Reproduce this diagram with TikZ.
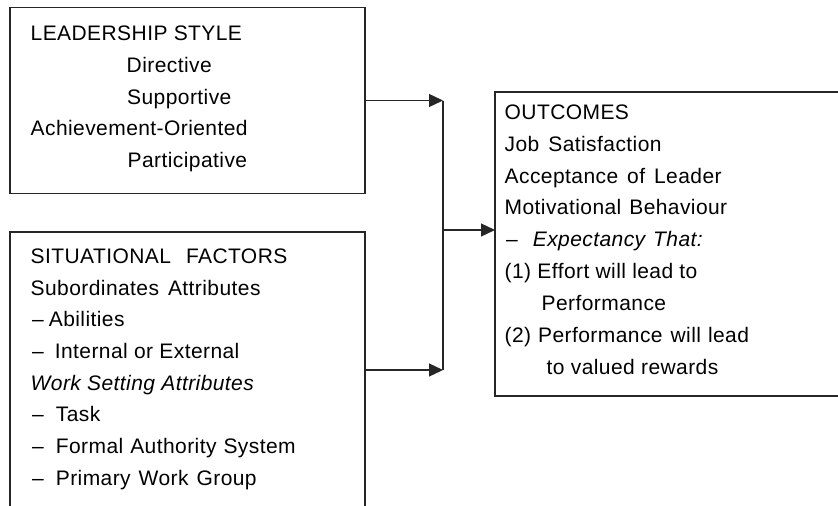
\documentclass[tikz,border=0pt]{standalone}
\usepackage{fontspec}
\setmainfont[LetterSpace=2]{Liberation Sans}
\usetikzlibrary{arrows.meta}
\begin{document}
\begin{tikzpicture}[x=1pt,y=-1pt,
  frame/.style={draw=black!85,line width=1.3pt},
  link/.style={draw=black!85,line width=1.3pt},
  tip/.style={link,-{Triangle[length=14pt,width=13pt]}},
  label/.style={anchor=base west,inner sep=0pt,font=\fontsize{21}{25}\selectfont}]
\clip (0,0) rectangle (838,506);

% Leadership style box
\node[frame,minimum width=355pt,minimum height=186pt,inner sep=0pt] (lead) at (187.5,100.5) {};
\foreach \dx/\t [count=\i] in {0/{LEADERSHIP STYLE},96/{Directive},96.5/{Supportive},
    0/{Achievement-Oriented},97/{Participative}}
  \node[label] (lead-\i) at ({30.5+\dx},{40.7+31.65*(\i-1)}) {\t};

% Situational factors box (open at the bottom)
\coordinate (sit-nw) at (10,232);
\coordinate (sit-ne) at (365,232);
\coordinate (sit-out) at (365,370);
\draw[frame] (10,512) -- (sit-nw) -- (sit-ne) -- (365,512);
\foreach \dx/\t [count=\i] in {0/{SITUATIONAL\hspace{15pt}FACTORS},
    0/{Subordinates\hspace{9pt}Attributes},
    1.5/{--\hspace{5pt}Abilities},
    1.5/{--\hspace{11pt}Internal or External},
    0/{\textit{Work Setting Attributes}},
    1.5/{--\hspace{12pt}Task},
    1.5/{--\hspace{12pt}Formal\hspace{7pt}Authority\hspace{7pt}System},
    1.5/{--\hspace{12pt}Primary\hspace{8pt}Work\hspace{8pt}Group}}
  \node[label] (sit-\i) at ({30.5+\dx},{263.3+31.7*(\i-1)}) {\t};

% Outcomes box (open to the right)
\coordinate (out-nw) at (495,92);
\coordinate (out-sw) at (495,396);
\coordinate (out-in) at (495,230);
\draw[frame] (845,92) -- (out-nw) -- (out-sw) -- (845,396);
\foreach \dx/\t [count=\i] in {0/{OUTCOMES},
    0/{Job\hspace{9pt}Satisfaction},
    0/{Acceptance\hspace{9pt}of\hspace{9pt}Leader},
    0/{Motivational\hspace{8pt}Behaviour},
    1.5/{--\hspace{15pt}\textit{Expectancy\hspace{8pt}That:}},
    0/{(1) Effort will lead to},
    37/{Performance},
    0/{(2)\hspace{7pt}Performance\hspace{8pt}will\hspace{7pt}lead},
    42/{to valued rewards}}
  \node[label] (out-\i) at ({504.5+\dx},{119.3+31.85*(\i-1)}) {\t};

% Connectors
\coordinate (join-top) at (443,100.5);
\coordinate (join-mid) at (443,230);
\coordinate (join-bot) at (443,370);
\draw[tip] (lead.east) -- (join-top);
\draw[tip] (sit-out) -- (join-bot);
\draw[link] (join-top) -- (join-bot);
\draw[tip] (join-mid) -- (out-in);
\end{tikzpicture}
\end{document}
